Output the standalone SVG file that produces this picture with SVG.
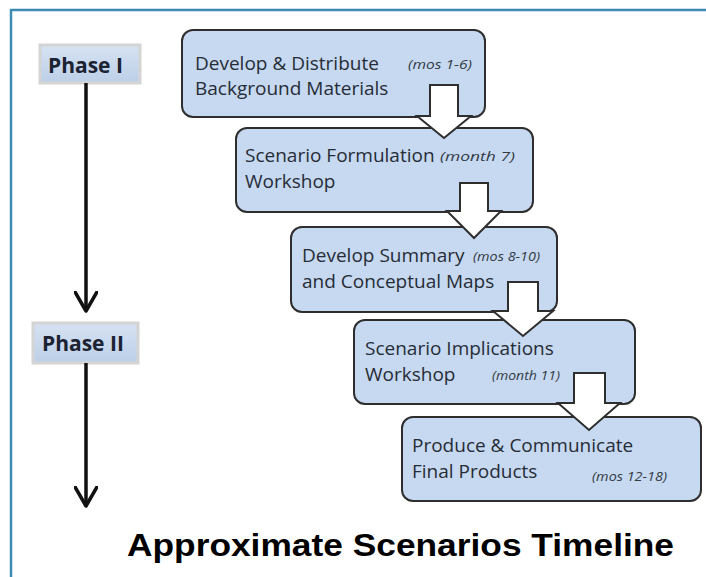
<svg xmlns="http://www.w3.org/2000/svg" width="706" height="577" viewBox="0 0 706 577">
  <defs>
    <linearGradient id="phaseFill" x1="0" y1="0" x2="0" y2="1">
      <stop offset="0" stop-color="#d6e2f2"/>
      <stop offset="1" stop-color="#bccfe8"/>
    </linearGradient>
    <!-- open chevron head; tip lies on +x so it follows the line direction -->
    <marker id="chev" viewBox="0 0 22 24" refX="20" refY="12" markerWidth="22" markerHeight="24" markerUnits="userSpaceOnUse" orient="auto">
      <path d="M1,1 L20,12 L1,23" fill="none" stroke="#111" stroke-width="3.5" stroke-linecap="round" stroke-linejoin="round"/>
    </marker>
  </defs>
  <style>
    .frame { fill: none; stroke: #3f8ab5; stroke-width: 2.5; }
    .step { fill: #c6d9f1; stroke: #2e2e2e; stroke-width: 2; }
    .phase { fill: url(#phaseFill); stroke: #d4d4d4; stroke-width: 3; }
    .big { font-family: "Open Sans", "Liberation Sans", sans-serif; font-size: 19px; fill: #262c36; }
    .when { font-family: "Open Sans", "Liberation Sans", sans-serif; font-size: 13.5px; font-style: italic; fill: #333a44; }
    .ph { font-family: "Open Sans", "Liberation Sans", sans-serif; font-size: 21px; font-weight: bold; fill: #1b2231; }
    .blk { fill: #ffffff; stroke: #2e2e2e; stroke-width: 2; stroke-linejoin: miter; }
    .vline { stroke: #111; stroke-width: 3.5; fill: none; }
    .title { font-family: "Liberation Sans", Arial, sans-serif; font-size: 32px; font-weight: bold; fill: #000; }
  </style>

  <rect x="0" y="0" width="706" height="577" fill="#ffffff"/>
  <!-- page frame: only top and left edges show -->
  <path class="frame" d="M11,577 L11,10 L706,10"/>

  <!-- phase markers -->
  <g id="phase1">
    <rect class="phase" x="40" y="45" width="100" height="38"/>
    <text class="ph" x="48" y="73">Phase I</text>
  </g>
  <g id="phase2">
    <rect class="phase" x="33" y="323" width="105" height="40"/>
    <text class="ph" x="42" y="351">Phase II</text>
  </g>

  <!-- steps -->
  <g id="step1">
    <rect class="step" x="182" y="30" width="303" height="87" rx="11"/>
    <text class="big" x="195" y="70">Develop &amp; Distribute</text>
    <text class="big" x="195" y="95">Background Materials</text>
    <text class="when" x="408" y="69" textLength="64" lengthAdjust="spacingAndGlyphs">(mos 1-6)</text>
  </g>
  <g id="step2">
    <rect class="step" x="236" y="128" width="297" height="84" rx="11"/>
    <text class="big" x="245" y="162">Scenario Formulation</text>
    <text class="big" x="245" y="188">Workshop</text>
    <text class="when" x="440" y="161" textLength="75" lengthAdjust="spacingAndGlyphs">(month 7)</text>
  </g>
  <g id="step3">
    <rect class="step" x="291" y="227" width="266" height="85" rx="11"/>
    <text class="big" x="302" y="262">Develop Summary</text>
    <text class="big" x="302" y="288">and Conceptual Maps</text>
    <text class="when" x="473" y="261" textLength="67" lengthAdjust="spacingAndGlyphs">(mos 8-10)</text>
  </g>
  <g id="step4">
    <rect class="step" x="354" y="320" width="281" height="84" rx="11"/>
    <text class="big" x="365" y="355">Scenario Implications</text>
    <text class="big" x="365" y="381">Workshop</text>
    <text class="when" x="492" y="380" textLength="68" lengthAdjust="spacingAndGlyphs">(month 11)</text>
  </g>
  <g id="step5">
    <rect class="step" x="402" y="417" width="299" height="84" rx="11"/>
    <text class="big" x="412" y="452">Produce &amp; Communicate</text>
    <text class="big" x="412" y="478">Final Products</text>
    <text class="when" x="592" y="481" textLength="75" lengthAdjust="spacingAndGlyphs">(mos 12-18)</text>
  </g>

  <!-- connectors -->
  <g id="connectors">
    <path class="blk" d="M430,85 H458 V116 H471 L444,138 L417,116 H430 Z"/>
    <path class="blk" d="M460,183 H488 V211 H501 L474,238 L447,211 H460 Z"/>
    <path class="blk" d="M508,282 H538 V311 H553 L523,336 L493,311 H508 Z"/>
    <path class="blk" d="M574,373 H605 V403 H620 L589,430 L558,403 H574 Z"/>
    <line class="vline" x1="86" y1="83" x2="86" y2="311" marker-end="url(#chev)"/>
    <line class="vline" x1="86" y1="363" x2="86" y2="506" marker-end="url(#chev)"/>
  </g>

  <text class="title" x="127" y="556" textLength="547" lengthAdjust="spacingAndGlyphs">Approximate Scenarios Timeline</text>
</svg>
